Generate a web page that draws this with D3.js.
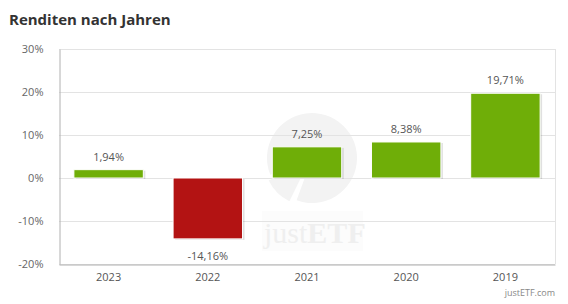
<!DOCTYPE html>
<html>
<head>
<meta charset="utf-8">
<script src="https://cdn.jsdelivr.net/npm/d3@7"></script>
<style>
  body { margin: 0; background: #fff; }
  text { font-family: "Open Sans", sans-serif; }
</style>
</head>
<body>
<svg id="chart"></svg>
<script>
const width = 568;
const height = 304;
const margin = { top: 49, right: 13, bottom: 40, left: 59 };

// Data
const years = ["2023", "2022", "2021", "2020", "2019"];
const returns = [1.94, -14.16, 7.25, 8.38, 19.71];
const yTicks = [-20, -10, 0, 10, 20, 30];

const svg = d3.select("#chart")
    .attr("width", width)
    .attr("height", height);

const x = d3.scaleBand()
    .domain(years)
    .range([margin.left, width - margin.right])
    .paddingInner(0.3)
    .paddingOuter(0.15);

const y = d3.scaleLinear()
    .domain([-20, 30])
    .range([height - margin.bottom, margin.top]);

// title
svg.append("text")
    .attr("x", 9)
    .attr("y", 25)
    .attr("fill", "#333")
    .style("font-size", "15px")
    .style("font-weight", "bold")
    .text("Renditen nach Jahren");

// watermark
const wm = svg.append("g").attr("transform", "translate(312,158)");
const arc = d3.arc().innerRadius(0).outerRadius(45);
const deg = Math.PI / 180;
wm.append("path")
    .attr("d", arc({ startAngle: 248 * deg, endAngle: 560 * deg }))
    .attr("fill", "#f3f3f3");
const mid = 225 * deg;
wm.append("path")
    .attr("transform", `translate(${Math.sin(mid) * 4},${-Math.cos(mid) * 4})`)
    .attr("d", arc({ startAngle: 206 * deg, endAngle: 244 * deg }))
    .attr("fill", "#f3f3f3");
svg.append("rect")
    .attr("x", 262).attr("y", 211)
    .attr("width", 101).attr("height", 40)
    .attr("fill", "#fcfcfc");
const wmText = svg.append("text")
    .attr("x", 264)
    .attr("y", 243)
    .attr("fill", "#efefef")
    .style("font-family", "'Liberation Serif', serif")
    .style("font-size", "30px");
wmText.append("tspan").text("just");
wmText.append("tspan").style("font-weight", "bold").text("ETF");

// grid
svg.append("g")
    .selectAll("line")
    .data(yTicks)
    .join("line")
    .attr("x1", margin.left)
    .attr("x2", width - margin.right)
    .attr("y1", d => Math.round(y(d)) + 0.5)
    .attr("y2", d => Math.round(y(d)) + 0.5)
    .attr("stroke", "#e3e3e3");

svg.append("line")
    .attr("x1", width - margin.right + 0.5)
    .attr("x2", width - margin.right + 0.5)
    .attr("y1", y(30))
    .attr("y2", y(-20))
    .attr("stroke", "#e3e3e3");

// y axis
const yAxis = svg.append("g")
    .attr("transform", `translate(${margin.left + 0.5},0)`)
    .call(d3.axisLeft(y).tickValues(yTicks).tickSize(0).tickPadding(16).tickFormat(d => d + "%"));
yAxis.select(".domain").attr("stroke", "#b0b0b0");
yAxis.selectAll("text").attr("fill", "#666").style("font-size", "11px")
    .style("font-family", "'Open Sans', sans-serif");

// x axis
const xAxis = svg.append("g")
    .attr("transform", `translate(0,${Math.round(y(-20)) + 0.5})`)
    .call(d3.axisBottom(x).tickSize(0).tickPadding(9));
xAxis.select(".domain").attr("stroke", "#b0b0b0");
xAxis.selectAll("text").attr("fill", "#555").style("font-size", "11px")
    .style("font-family", "'Open Sans', sans-serif");

// bars
const bars = svg.append("g")
    .selectAll("g")
    .data(years.map((yr, i) => ({ year: yr, value: returns[i] })))
    .join("g");

bars.append("rect")
    .attr("x", d => x(d.year) + 2)
    .attr("y", d => y(Math.max(0, d.value)) + 1)
    .attr("width", x.bandwidth())
    .attr("height", d => Math.abs(y(d.value) - y(0)))
    .attr("fill", "#000")
    .attr("opacity", 0.12);

bars.append("rect")
    .attr("x", d => x(d.year))
    .attr("y", d => y(Math.max(0, d.value)))
    .attr("width", x.bandwidth())
    .attr("height", d => Math.abs(y(d.value) - y(0)))
    .attr("fill", d => d.value >= 0 ? "#6fae08" : "#b31313")
    .attr("stroke", "#fff")
    .attr("stroke-width", 1);

bars.append("text")
    .attr("x", d => x(d.year) + x.bandwidth() / 2)
    .attr("y", d => d.value >= 0 ? y(d.value) - 9 : y(d.value) + 21)
    .attr("text-anchor", "middle")
    .attr("fill", "#555")
    .style("font-size", "11px")
    .text(d => d.value.toFixed(2).replace(".", ",") + "%");

// credit
svg.append("text")
    .attr("x", width - margin.right)
    .attr("y", 296)
    .attr("text-anchor", "end")
    .attr("fill", "#888")
    .style("font-size", "9px")
    .text("justETF.com");
</script>
</body>
</html>
